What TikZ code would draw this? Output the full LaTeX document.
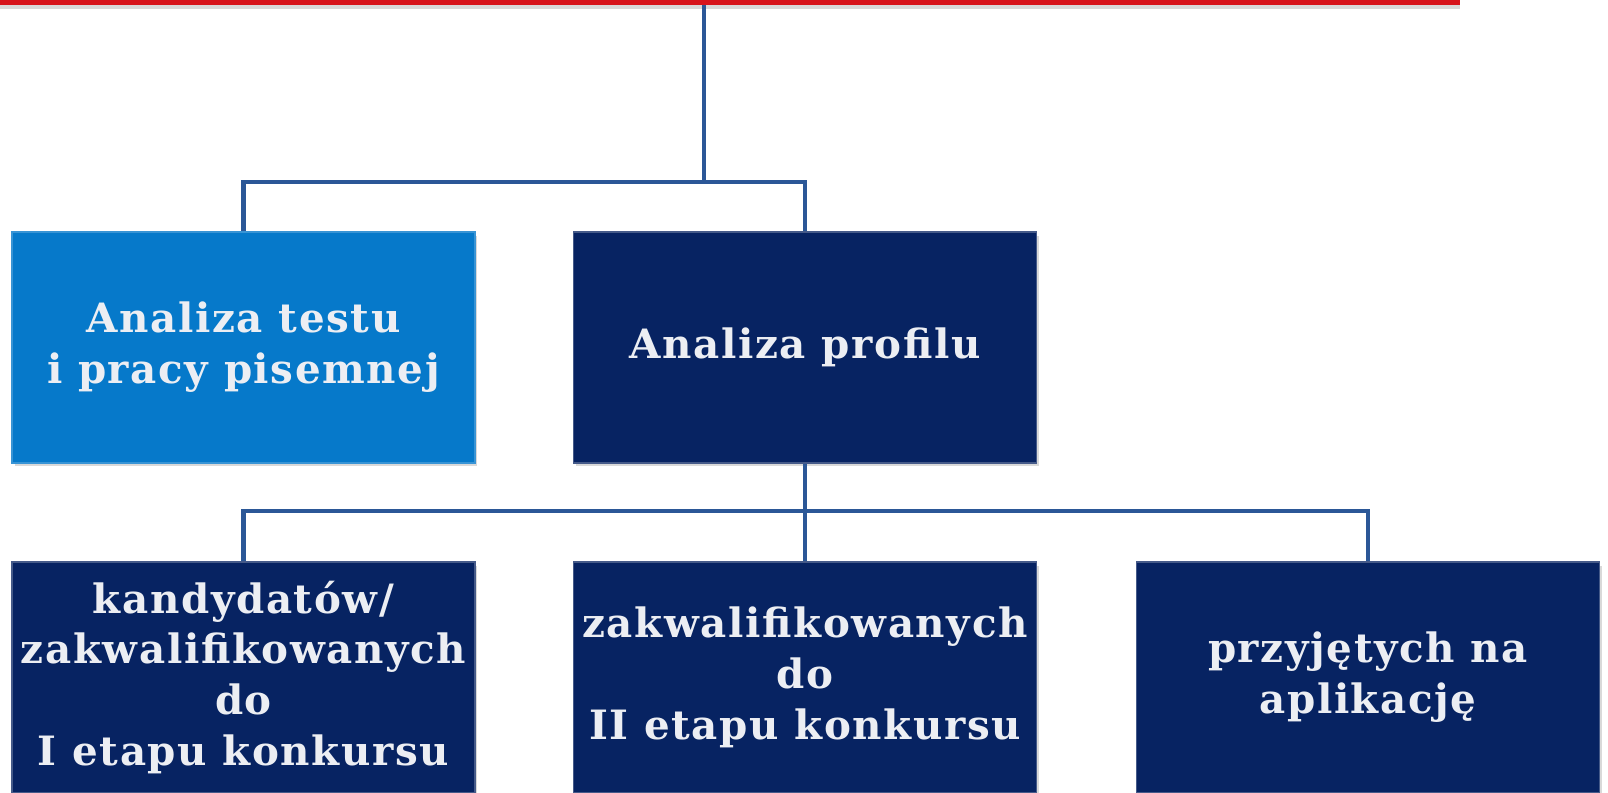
\documentclass[tikz,border=0pt]{standalone}
\usepackage{fontspec}
\newfontfamily\boxfont[LetterSpace=4.0]{DejaVu Serif}
\usetikzlibrary{shadows}
\definecolor{lightbox}{RGB}{6,121,202}
\definecolor{darkbox}{RGB}{7,35,98}
\definecolor{linkblue}{RGB}{43,87,151}
\definecolor{topred}{RGB}{215,20,28}
\definecolor{boxtext}{RGB}{236,238,243}
\tikzset{
  box/.style={rectangle, minimum width=9.26cm, minimum height=4.62cm,
    align=center, text=boxtext, inner sep=0pt,
    font=\boxfont\bfseries\fontsize{23}{29}\selectfont,
    drop shadow={shadow xshift=0.05cm, shadow yshift=-0.07cm, opacity=0.3}},
  lightbox/.style={box, fill=lightbox, draw=lightbox!80!white, line width=1pt},
  darkbox/.style={box, fill=darkbox, draw=darkbox!75!white, line width=1pt},
  link/.style={linkblue, line width=2.3pt}
}
\begin{document}
\begin{tikzpicture}[x=0.02cm, y=-0.02cm]
  \useasboundingbox (0,0) rectangle (1608,792);
  \node[fill=topred, minimum width=29.4cm, minimum height=2cm,
    drop shadow={shadow xshift=0cm, shadow yshift=-0.08cm, opacity=0.3}] (top) at (725,-45) {};
  \draw
    (243.5,347.5) node[lightbox] (b1) {Analiza testu\\i pracy pisemnej}
    (805,347.5) node[darkbox] (b2) {Analiza profilu}
    (243.5,677.5) node[darkbox] (c1) {kandydatów/\\zakwalifikowanych\\do\\I etapu konkursu}
    (805,677.5) node[darkbox] (c2) {zakwalifikowanych\\do\\II etapu konkursu}
    (1368,677.5) node[darkbox] (c3) {przyjętych na\\aplikację};
  \coordinate (j1) at (704,182);
  \coordinate (j2) at (805,511);
  \begin{scope}[link]
    \draw (top.south -| j1) -- (j1);
    \draw (b1.north) |- (j1) -| (b2.north);
    \draw (b2.south) -- (j2);
    \draw (c1.north) |- (j2) -| (c3.north);
    \draw (j2) -- (c2.north);
  \end{scope}
\end{tikzpicture}
\end{document}
